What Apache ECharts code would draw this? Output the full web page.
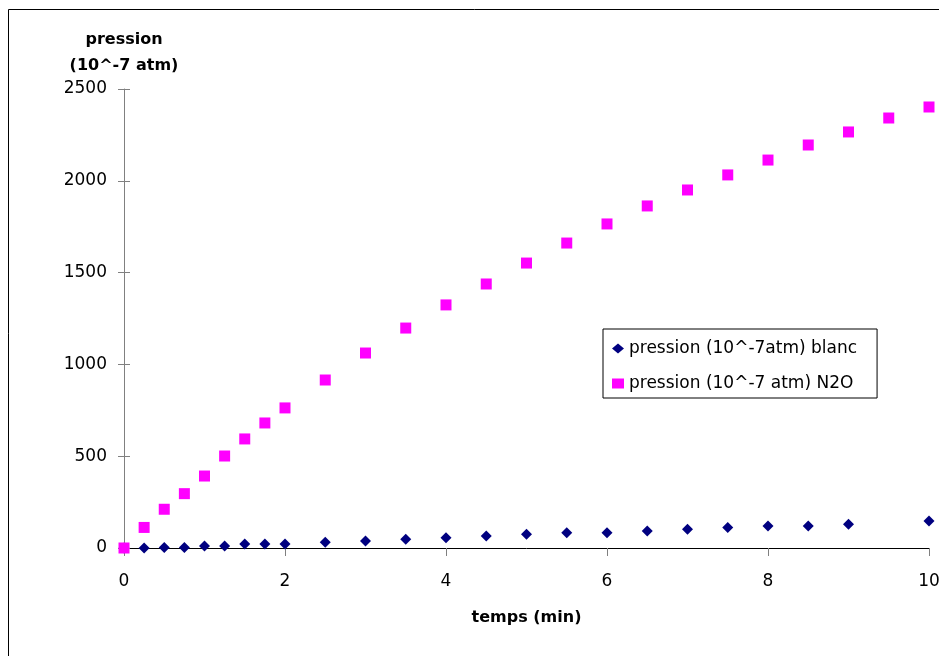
<!DOCTYPE html>
<html>
<head>
<meta charset="utf-8">
<script src="https://cdn.jsdelivr.net/npm/echarts@6/dist/echarts.min.js"></script>
<style>
html,body{margin:0;padding:0;background:#fff;}
#chart{width:939px;height:656px;}
</style>
</head>
<body>
<div id="chart"></div>
<script>
const times = [0,0.25,0.5,0.75,1,1.25,1.5,1.75,2,2.5,3,3.5,4,4.5,5,5.5,6,6.5,7,7.5,8,8.5,9,9.5,10];
const blanc = [0,0,3,3,11,11,22,22,22,31,38,47,56,65,75,83,83,93,102,111,120,120,129,null,147];
const n2o = [0,112,211,296,392,501,594,681,763,915,1062,1198,1324,1438,1552,1661,1765,1863,1950,2032,2113,2195,2266,2342,2402];
const seriesNames = ['pression (10^-7atm) blanc','pression (10^-7 atm) N2O'];
const yTitle = 'pression\n(10^-7 atm)';
const xTitle = 'temps (min)';

function pairs(vals){
  const out = [];
  times.forEach((t,i)=>{ if(vals[i]!==null) out.push([t, vals[i]]); });
  return out;
}

const FONT = 'DejaVu Sans';
const chart = echarts.init(document.getElementById('chart'), null, {renderer:'canvas'});
chart.setOption({
  backgroundColor:'#fff',
  animation:false,
  textStyle:{fontFamily:FONT,color:'#000'},
  graphic:[{type:'rect',shape:{x:8.5,y:9.5,width:2000,height:2000},style:{fill:'none',stroke:'#000',lineWidth:1},silent:true,z:-1}],
  grid:{left:124,right:10,top:89,bottom:108,containLabel:false,outerBoundsMode:'none'},
  legend:{
    orient:'vertical',left:603,top:329,
    padding:[11,20,6,9],itemGap:18,itemWidth:12,itemHeight:10,
    borderColor:'#000',borderWidth:1,backgroundColor:'#fff',
    textStyle:{fontFamily:FONT,fontSize:17,color:'#000'},
    data:[{name:seriesNames[0],icon:'diamond'},{name:seriesNames[1],icon:'rect'}]
  },
  xAxis:{
    type:'value',min:0,max:10,interval:2,
    name:xTitle,nameLocation:'middle',nameGap:62,
    nameTextStyle:{fontFamily:FONT,fontSize:16,fontWeight:'bold',color:'#000'},
    axisLine:{show:true,onZero:false,lineStyle:{color:'#000',width:1}},
    axisTick:{show:true,length:8,lineStyle:{color:'#808080'}},
    axisLabel:{margin:25,fontFamily:FONT,fontSize:17,color:'#000'},
    splitLine:{show:false}
  },
  yAxis:[{
    type:'value',min:0,max:2500,interval:500,
    name:yTitle,nameLocation:'end',nameGap:10,
    nameTextStyle:{fontFamily:FONT,fontSize:16,fontWeight:'bold',color:'#000',lineHeight:26,align:'center'},
    axisLine:{show:true,lineStyle:{color:'#808080',width:1}},
    axisTick:{show:true,length:6,lineStyle:{color:'#808080'}},
    axisLabel:{margin:17,fontFamily:FONT,fontSize:17,color:'#000',formatter:function(v){return String(v);}},
    splitLine:{show:false}
  },{
    type:'value',min:0,max:2500,interval:500,position:'left',
    axisLine:{show:false},
    axisTick:{show:true,inside:true,length:6,lineStyle:{color:'#808080'}},
    axisLabel:{show:false},splitLine:{show:false}
  }],
  series:[{
    name:seriesNames[0],type:'scatter',symbol:'diamond',symbolSize:11,
    itemStyle:{color:'#000080',opacity:1},data:pairs(blanc),yAxisIndex:0
  },{
    name:seriesNames[1],type:'scatter',symbol:'rect',symbolSize:11,
    itemStyle:{color:'#FF00FF',opacity:1},data:pairs(n2o),yAxisIndex:0
  }]
});
</script>
</body>
</html>
